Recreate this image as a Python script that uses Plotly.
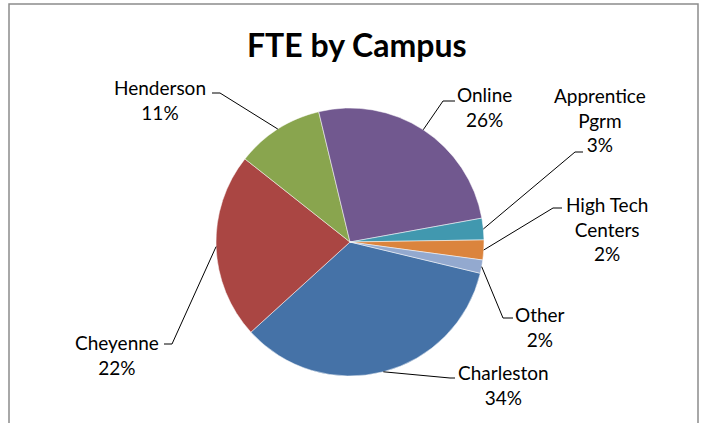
import math
import plotly.graph_objects as go

W, H = 707, 423

# ---- data ----
campuses = ["Charleston", "Cheyenne", "Henderson", "Online",
            "Apprentice Pgrm", "High Tech Centers", "Other"]
label_names = ["Charleston", "Cheyenne", "Henderson", "Online",
               "Apprentice<br>Pgrm", "High Tech<br>Centers", "Other"]
fte_share = [34.5, 22.4, 10.6, 25.9, 2.6, 2.4, 1.6]
colors = ["#4572A7", "#AA4643", "#89A54E", "#71588F",
          "#4198AF", "#DB843D", "#93A9CF"]

# ---- layout constants (pixels) ----
CX, CY, R = 350, 242, 134
ROT = 103.5
FONT = "Lato, 'Open Sans', sans-serif"

# label text centre and leader elbow: (tx, ty, hx0, hx1, hy)
label_layout = {
    "Charleston": (503, 385, 455, 450, 378),
    "Cheyenne": (117, 355, 164, 172, 344),
    "Henderson": (160, 100, 212, 220, 93),
    "Online": (484, 107, 455, 443, 101),
    "Apprentice Pgrm": (600, 120, 583, 575, 152),
    "High Tech Centers": (607, 229, 562, 553, 208),
    "Other": (540, 327, 513, 503, 318),
}

def px(x):
    return x / W

def py(y):
    return 1 - y / H

fig = go.Figure(go.Pie(
    labels=campuses,
    values=fte_share,
    sort=False,
    direction="clockwise",
    rotation=ROT,
    marker=dict(colors=colors, line=dict(color="white", width=0.5)),
    textinfo="none",
    hoverinfo="label+percent",
    domain=dict(x=[px(CX - R), px(CX + R)], y=[py(CY + R), py(CY - R)]),
    showlegend=False,
))

total = sum(fte_share)
shapes = []
annotations = []
cum = 0.0
for name, lab, v in zip(campuses, label_names, fte_share):
    mid = ROT + (cum + v / 2) / total * 360
    cum += v
    a = math.radians(mid)
    ex, ey = CX + R * math.sin(a), CY - R * math.cos(a)
    tx, ty, hx0, hx1, hy = label_layout[name]
    path = f"M {px(hx0)},{py(hy)} L {px(hx1)},{py(hy)} L {px(ex)},{py(ey)}"
    shapes.append(dict(type="path", path=path, xref="paper", yref="paper",
                       line=dict(color="black", width=1)))
    pct = round(v / total * 100)
    annotations.append(dict(
        x=px(tx), y=py(ty), xref="paper", yref="paper",
        text=f"{lab}<br>{pct}%", showarrow=False,
        xanchor="center", yanchor="middle", align="center",
        font=dict(family=FONT, size=19, color="black"),
    ))

annotations.append(dict(
    x=px(357), y=py(44), xref="paper", yref="paper",
    text="<b>FTE by Campus</b>", showarrow=False,
    xanchor="center", yanchor="middle",
    font=dict(family=FONT, size=32, color="black"),
))

# chart-area border
shapes.append(dict(type="rect", xref="paper", yref="paper",
                   x0=px(9), x1=px(698), y0=-0.2, y1=py(4),
                   line=dict(color="#8C8C8C", width=1.5),
                   fillcolor="rgba(0,0,0,0)"))

fig.update_layout(
    width=W, height=H,
    margin=dict(l=0, r=0, t=0, b=0),
    paper_bgcolor="white",
    plot_bgcolor="white",
    shapes=shapes,
    annotations=annotations,
)

fig.write_html("out.html",
               config={"displayModeBar": False},
               post_script="document.body.style.margin='0';"
                           "document.body.style.overflow='hidden';")
